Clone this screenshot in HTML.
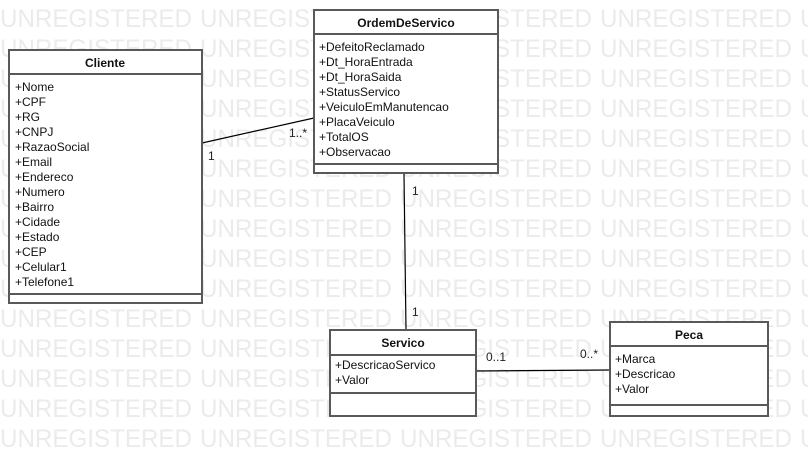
<!DOCTYPE html>
<html><head><meta charset="utf-8"><style>
html,body{margin:0;padding:0;background:#fff;width:808px;height:458px;overflow:hidden;font-family:"Liberation Sans",Arial,sans-serif}
</style></head><body>
<svg width="808" height="458" xmlns="http://www.w3.org/2000/svg" style="position:absolute;left:0;top:0" font-family="Liberation Sans, Arial, sans-serif">
<defs>
<g id="row" fill="#ebebeb" font-size="25">
<text x="0" y="0" textLength="192" lengthAdjust="spacingAndGlyphs">UNREGISTERED</text>
<text x="200" y="0" textLength="192" lengthAdjust="spacingAndGlyphs">UNREGISTERED</text>
<text x="400" y="0" textLength="192" lengthAdjust="spacingAndGlyphs">UNREGISTERED</text>
<text x="600" y="0" textLength="192" lengthAdjust="spacingAndGlyphs">UNREGISTERED</text>
<text x="800" y="0" textLength="192" lengthAdjust="spacingAndGlyphs">UNREGISTERED</text>
</g>
</defs>
<use href="#row" y="27"/><use href="#row" y="57"/><use href="#row" y="87"/><use href="#row" y="117"/>
<use href="#row" y="147"/><use href="#row" y="177"/><use href="#row" y="207"/><use href="#row" y="237"/>
<use href="#row" y="267"/><use href="#row" y="297"/><use href="#row" y="327"/><use href="#row" y="357"/>
<use href="#row" y="387"/><use href="#row" y="417"/><use href="#row" y="447"/>
<g stroke="#000" stroke-width="1.2" fill="none">
<line x1="202" y1="143" x2="314" y2="118"/>
<line x1="404" y1="174" x2="406" y2="330"/>
<line x1="476" y1="371" x2="610" y2="370"/>
</g>
<g font-size="12" fill="#222">
<text x="208" y="160">1</text>
<text x="289" y="137">1..*</text>
<text x="412" y="195">1</text>
<text x="412" y="316">1</text>
<text x="486" y="361">0..1</text>
<text x="580" y="358">0..*</text>
</g>
<g stroke="#595959" stroke-width="2" fill="#fff">
<rect x="9" y="50" width="193" height="253"/>
<line x1="9" y1="74" x2="202" y2="74"/>
<line x1="9" y1="294" x2="202" y2="294"/>
<rect x="314" y="10" width="184" height="163"/>
<line x1="314" y1="34" x2="498" y2="34"/>
<line x1="314" y1="164" x2="498" y2="164"/>
<rect x="330" y="330" width="146" height="86"/>
<line x1="330" y1="355" x2="476" y2="355"/>
<line x1="330" y1="393" x2="476" y2="393"/>
<rect x="610" y="322" width="158" height="94"/>
<line x1="610" y1="346" x2="768" y2="346"/>
<line x1="610" y1="405" x2="768" y2="405"/>
</g>
<g font-size="12" fill="#111" font-weight="bold" text-anchor="middle">
<text x="105" y="67">Cliente</text>
<text x="406" y="27">OrdemDeServico</text>
<text x="403" y="347">Servico</text>
<text x="689" y="339">Peca</text>
</g>
<g font-size="12" fill="#111">
<text x="15" y="91">+Nome</text>
<text x="15" y="106">+CPF</text>
<text x="15" y="121">+RG</text>
<text x="15" y="136">+CNPJ</text>
<text x="15" y="151">+RazaoSocial</text>
<text x="15" y="166">+Email</text>
<text x="15" y="181">+Endereco</text>
<text x="15" y="196">+Numero</text>
<text x="15" y="211">+Bairro</text>
<text x="15" y="226">+Cidade</text>
<text x="15" y="241">+Estado</text>
<text x="15" y="256">+CEP</text>
<text x="15" y="271">+Celular1</text>
<text x="15" y="286">+Telefone1</text>
<text x="319" y="51">+DefeitoReclamado</text>
<text x="319" y="66">+Dt_HoraEntrada</text>
<text x="319" y="81">+Dt_HoraSaida</text>
<text x="319" y="96">+StatusServico</text>
<text x="319" y="111">+VeiculoEmManutencao</text>
<text x="319" y="126">+PlacaVeiculo</text>
<text x="319" y="141">+TotalOS</text>
<text x="319" y="156">+Observacao</text>
<text x="335" y="369">+DescricaoServico</text>
<text x="335" y="384">+Valor</text>
<text x="615" y="363">+Marca</text>
<text x="615" y="378">+Descricao</text>
<text x="615" y="393">+Valor</text>
</g>
</svg>
</body></html>
